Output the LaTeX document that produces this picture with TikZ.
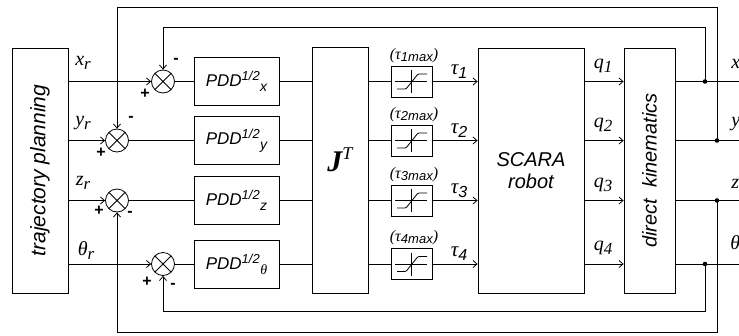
\documentclass[tikz,border=0pt]{standalone}
\usepackage{fontspec}
\setmainfont{Liberation Sans}
\newfontfamily\tnr{Liberation Serif}
\usetikzlibrary{arrows.meta}
\newcommand\mi[1]{{\tnr\itshape #1}}
\newcommand\fs[1]{\fontsize{#1}{#1}\selectfont}
\begin{document}
\begin{tikzpicture}[x=1pt,y=-1pt,line width=0.8pt,
  box/.style={draw,rectangle,inner sep=0pt},
  pdd/.style={box,minimum width=85pt,minimum height=48pt,font=\fs{17}\itshape},
  satbox/.style={box,minimum width=41pt,minimum height=31pt},
  sumnode/.style={draw,circle,minimum size=23pt,inner sep=0pt,
    path picture={\draw (path picture bounding box.north west) -- (path picture bounding box.south east)
                        (path picture bounding box.north east) -- (path picture bounding box.south west);}},
  arr/.style={-{Straight Barb[length=4pt,width=7pt]}},
  sign/.style={font=\fs{16}\bfseries,inner sep=0pt},
  lab/.style={inner sep=0pt},
  satpic/.pic={\draw[line width=0.6pt] (-16.5,0) -- (15.5,0) (0,-11.5) -- (0,11.5);
    \draw[rounded corners=1pt] (-14.5,7.5) -- (-5.5,7.5) -- (6.5,-7.5) -- (15.5,-7.5);}
]
\useasboundingbox (0,0) rectangle (739,335);
\def\ra{81.5}\def\rb{140.5}\def\rc{200.5}\def\rd{264}
% main blocks
\node[box,minimum width=56pt,minimum height=245pt] (tp) at (40,170.5)
  {\rotatebox{90}{\fs{21}\itshape trajectory planning}};
\node[sumnode] (sx) at (163,\ra) {};
\node[sumnode] (sy) at (117,\rb) {};
\node[sumnode] (sz) at (117,\rc) {};
\node[sumnode] (st) at (163,\rd) {};
\node[pdd] (px) at (236.5,\ra) {PDD\textsuperscript{\fs{13}1/2}\raisebox{-5pt}{\fs{14}x}};
\node[pdd] (py) at (236.5,\rb) {PDD\textsuperscript{\fs{13}1/2}\raisebox{-5pt}{\fs{14}y}};
\node[pdd] (pz) at (236.5,\rc) {PDD\textsuperscript{\fs{13}1/2}\raisebox{-5pt}{\fs{14}z}};
\node[pdd] (pt) at (236.5,\rd) {PDD\textsuperscript{\fs{13}1/2}\raisebox{-5pt}{\fs{14}\mi{θ}}};
\node[box,minimum width=56pt,minimum height=246pt] (jt) at (340,170) {};
\node[lab] (jtl) at (340,160) {\fs{30}\tnr\bfseries\itshape J\raisebox{12pt}{\fs{18}\mdseries T}};
\foreach \n/\r in {1/\ra,2/\rb,3/\rc,4/\rd}{
  \node[satbox] (s\n) at (411.5,\r) {};
  \pic at (s\n) {satpic};
}
\node[box,minimum width=106pt,minimum height=245pt,align=center,font=\fontsize{20}{22}\selectfont\itshape] (sc) at (531,170.5)
  {SCARA\\robot};
\node[box,minimum width=51pt,minimum height=245pt] (dk) at (649.5,170.5)
  {\rotatebox{90}{\fs{20}\itshape direct\ \ kinematics}};
% coordinates on the outputs
\coordinate (j1) at (705,\ra);
\coordinate (j2) at (717,\rb);
\coordinate (j3) at (717,\rc);
\coordinate (j4) at (705,\rd);
\coordinate (o1) at (745,\ra);
\coordinate (o2) at (745,\rb);
\coordinate (o3) at (745,\rc);
\coordinate (o4) at (745,\rd);
% signal lines
\draw[arr] (tp.east |- sx) -- (sx);
\draw[arr] (tp.east |- sy) -- (sy);
\draw[arr] (tp.east |- sz) -- (sz);
\draw[arr] (tp.east |- st) -- (st);
\draw (sx) -- (px); \draw (sy) -- (py); \draw (sz) -- (pz); \draw (st) -- (pt);
\foreach \p in {px,py,pz,pt}{\draw (\p) -- (jt.west |- \p);}
\foreach \n in {1,2,3,4}{
  \draw (jt.east |- s\n) -- (s\n);
  \draw[arr] (s\n) -- (sc.west |- s\n);
  \draw[arr] (sc.east |- s\n) -- (dk.west |- s\n);
  \draw (dk.east |- s\n) -- (o\n);
}
% feedback
\draw[arr] (j1) -- (705,27) -| (sx.north);
\draw[arr] (j2) -- (717,7) -| (sy.north);
\draw[arr] (j3) -- (717,332) -| (sz.south);
\draw[arr] (j4) -- (705,311) -| (st.south);
\foreach \j in {j1,j2,j3,j4}{\fill (\j) circle (2.3pt);}
% signs
\node[sign] at (176,61) {-};  \node[sign] at (145,94) {+};
\node[sign] at (131,119) {-}; \node[sign] at (101,153) {+};
\node[sign] at (99,211) {+};  \node[sign] at (130,214) {-};
\node[sign] at (147,282) {+}; \node[sign] at (173,286) {-};
% input labels
\node[lab] at (83,63) {\fs{20}\mi{x}\raisebox{-4pt}{\fs{17}\mi{r}}};
\node[lab] at (83,123) {\fs{20}\mi{y}\raisebox{-4pt}{\fs{17}\mi{r}}};
\node[lab] at (83,183) {\fs{20}\mi{z}\raisebox{-4pt}{\fs{17}\mi{r}}};
\node[lab] at (86,251) {\fs{20}\mi{θ}\raisebox{-4pt}{\fs{17}\mi{r}}};
% torque labels
\foreach \n/\r in {1/\ra,2/\rb,3/\rc,4/\rd}{
  \node[lab] at (459,\r-10) {\fs{21}\mi{τ}\raisebox{-4pt}{\fs{16}\itshape\n}};
  \node[lab] at (414,\r-26) {\fs{16}\mi{(τ}\raisebox{-2pt}{\fs{13}\itshape\n max}\mi{)}};
  \node[lab] at (603,\r-16) {\fs{20}\mi{q}\raisebox{-4pt}{\fs{17}\mi{\n}}};
}
% output labels
\node[lab,anchor=west] at (731,64) {\fs{20}\mi{x}};
\node[lab,anchor=west] at (731,124) {\fs{20}\mi{y}};
\node[lab,anchor=west] at (731,184) {\fs{20}\mi{z}};
\node[lab,anchor=west] at (730,243) {\fs{20}\mi{θ}};
\end{tikzpicture}
\end{document}
